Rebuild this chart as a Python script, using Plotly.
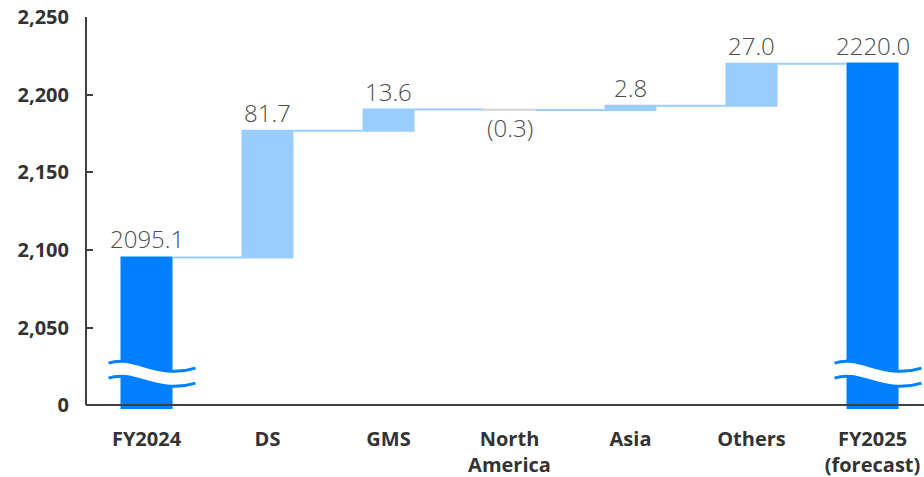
import plotly.graph_objects as go

# Net sales bridge, FY2024 -> FY2025 forecast
categories = ["FY2024", "DS", "GMS", "North<br>America", "Asia", "Others", "FY2025<br>(forecast)"]
values = [2095.1, 81.7, 13.6, -0.3, 2.8, 27.0, 2220.0]
measures = ["absolute", "relative", "relative", "relative", "relative", "relative", "absolute"]
labels = ["2095.1", "81.7", "13.6", "(0.3)", "2.8", "27.0", "2220.0"]

y_tickvals = [2000, 2050, 2100, 2150, 2200, 2250]
y_ticktext = ["0", "2,050", "2,100", "2,150", "2,200", "2,250"]

TOTAL_BLUE = "#0080FF"
STEP_BLUE = "#99CCFF"
DOWN_GREY = "#D9D9D9"
AXIS = "#404040"
LABEL_GREY = "#4D4D4D"

x_pos = list(range(len(categories)))
Y_MIN, Y_MAX = 1997.5, 2250
X_MIN, X_MAX = -0.5, 6.4256

fig = go.Figure(go.Waterfall(
    x=x_pos,
    y=values,
    measure=measures,
    width=0.43,
    increasing=dict(marker=dict(color=STEP_BLUE)),
    decreasing=dict(marker=dict(color=DOWN_GREY)),
    totals=dict(marker=dict(color=TOTAL_BLUE)),
    connector=dict(line=dict(color=STEP_BLUE, width=2)),
    hoverinfo="x+y",
    showlegend=False,
))

# value labels placed at the end of each bar
annotations = []
running = 0.0
for i, (v, m, lab) in enumerate(zip(values, measures, labels)):
    running = v if m == "absolute" else running + v
    falling = m == "relative" and v < 0
    annotations.append(dict(
        x=x_pos[i], y=running, xref="x", yref="y", text=lab, showarrow=False,
        yanchor="top" if falling else "bottom", yshift=1 if falling else 0,
        font=dict(family="Open Sans", size=24, color=LABEL_GREY, weight=300),
    ))

# pixel scale of the plot area, used to size the axis-break marks
W_PX, H_PX = 924 - 86, 477 - 17 - 68
px_x = (X_MAX - X_MIN) / W_PX
px_y = (Y_MAX - Y_MIN) / H_PX


def break_marks(xc):
    """White wavy band with two blue wavy edges drawn across a truncated bar."""
    x0, x1 = xc - 38 * px_x, xc + 49 * px_x
    w = x1 - x0
    y_left = 2000 + 42 * px_y  # top edge at the left end
    gap = 15 * px_y

    def cy(dpx, off=0.0):
        return y_left - dpx * px_y - off

    def curve(off):
        return (f"{x0},{cy(0, off)} C {x0 + 0.3 * w},{cy(-9, off)} "
                f"{x0 + 0.55 * w},{cy(17, off)} {x1},{cy(5, off)}")

    def curve_back(off):
        return (f"{x1},{cy(5, off)} C {x0 + 0.55 * w},{cy(17, off)} "
                f"{x0 + 0.3 * w},{cy(-9, off)} {x0},{cy(0, off)}")

    band = f"M {curve(0)} L {curve_back(gap)} Z"
    return [
        dict(type="path", xref="x", yref="y", path=band, fillcolor="white",
             line=dict(width=0), layer="above"),
        dict(type="path", xref="x", yref="y", path=f"M {curve(0)}",
             line=dict(color=TOTAL_BLUE, width=3), layer="above"),
        dict(type="path", xref="x", yref="y", path=f"M {curve(gap)}",
             line=dict(color=TOTAL_BLUE, width=3), layer="above"),
    ]


shapes = []
for i, m in enumerate(measures):
    if m == "absolute":
        shapes.extend(break_marks(x_pos[i]))

# axis lines
shapes.append(dict(type="line", xref="paper", yref="y", x0=0, x1=1, y0=2000, y1=2000,
                   line=dict(color=AXIS, width=2), layer="above"))
shapes.append(dict(type="line", xref="paper", yref="y", x0=0, x1=0, y0=2000, y1=2250,
                   line=dict(color=AXIS, width=2), layer="above"))

fig.update_layout(
    width=924, height=477,
    margin=dict(l=86, r=0, t=17, b=68),
    paper_bgcolor="white", plot_bgcolor="white",
    font=dict(family="Open Sans", color="#333333"),
    shapes=shapes,
    annotations=annotations,
    xaxis=dict(
        range=[X_MIN, X_MAX],
        tickvals=x_pos, ticktext=categories,
        tickfont=dict(family="Open Sans", size=20, color="#333333", weight="bold"),
        showgrid=False, zeroline=False, showline=False, ticks="",
        ticklabelstandoff=16,
    ),
    yaxis=dict(
        range=[Y_MIN, Y_MAX],
        tickvals=y_tickvals, ticktext=y_ticktext,
        tickfont=dict(family="Open Sans", size=20, color="#333333", weight="bold"),
        showgrid=False, zeroline=False, showline=False,
        ticks="inside", ticklen=7, tickwidth=2, tickcolor=AXIS,
        ticklabelstandoff=16,
    ),
)

fig.write_html("out.html")
